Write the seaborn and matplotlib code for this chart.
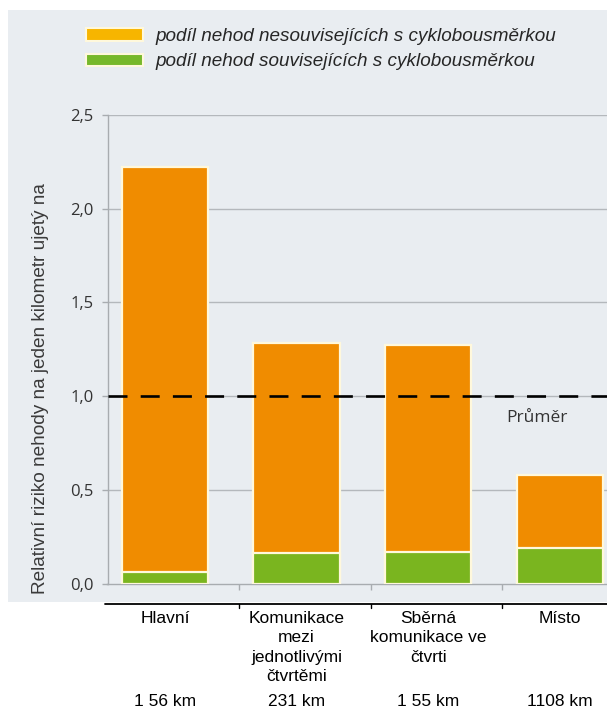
import numpy as np
import pandas as pd
import matplotlib
matplotlib.use("Agg")
import matplotlib.pyplot as plt
import matplotlib.transforms as mtransforms
from matplotlib.patches import Patch, Rectangle
from matplotlib.lines import Line2D
import seaborn as sns

# --- data -------------------------------------------------------------
categories = ["Hlavní", "Komunikace\nmezi\njednotlivými\nčtvrtěmi",
              "Sběrná\nkomunikace ve\nčtvrti", "Místo"]
lengths = ["1 56 km", "231 km", "1 55 km", "1108 km"]
total_risk = [2.22, 1.285, 1.275, 0.58]          # celková výška sloupce
related_risk = [0.06, 0.165, 0.17, 0.19]         # podíl souvisejících nehod
average_level = 1.0
y_ticks = [0.0, 0.5, 1.0, 1.5, 2.0, 2.5]
y_tick_labels = ["0,0", "0,5", "1,0", "1,5", "2,0", "2,5"]
legend_labels = ["podíl nehod nesouvisejících s cyklobousměrkou",
                 "podíl nehod souvisejících s cyklobousměrkou"]
y_label = "Relativní riziko nehody na jeden kilometr ujetý na"
average_label = "Průměr"

# --- styling ----------------------------------------------------------
sns.set_theme(style="white")
plt.rcParams["font.family"] = ["Liberation Sans", "DejaVu Sans"]

ORANGE = "#f08c00"
GREEN = "#7ab51f"
LEG_ORANGE = "#f7b500"
LEG_GREEN = "#76b82a"
CREAM = "#fff8dc"
PANEL = "#e9edf1"
GRID = "#b4b8bc"
HUMANIST = ["Open Sans", "DejaVu Sans"]
ARIAL = ["Liberation Sans", "DejaVu Sans"]

W, H = 607, 710
fig = plt.figure(figsize=(W / 100, H / 100), dpi=100)
fig.patch.set_facecolor("white")

# light panel behind the plot
fig.patches.append(Rectangle((8 / W, 1 - 602 / H), 1 - 8 / W, (602 - 10) / H,
                             transform=fig.transFigure, facecolor=PANEL,
                             edgecolor="none", zorder=-10))

ax_left, ax_right = 107.5 / W, 1.0
ax_bottom, ax_top = 1 - 583.5 / H, 1 - 115 / H
ax = fig.add_axes([ax_left, ax_bottom, ax_right - ax_left, ax_top - ax_bottom])
ax.set_facecolor("none")

df = pd.DataFrame({"kategorie": categories, "celkem": total_risk,
                   "souvisejici": related_risk})

sns.barplot(data=df, x="kategorie", y="celkem", order=categories,
            color=ORANGE, saturation=1, width=0.655, edgecolor=CREAM,
            linewidth=1.6, ax=ax, zorder=3)
sns.barplot(data=df, x="kategorie", y="souvisejici", order=categories,
            color=GREEN, saturation=1, width=0.655, edgecolor=CREAM,
            linewidth=1.6, ax=ax, zorder=4)

ax.set_xlim(-0.437, 3.36)
ax.set_ylim(0, 2.5)

# horizontal grid lines
for t in y_ticks[1:]:
    ax.axhline(t, color=GRID, lw=1.0, zorder=1)

# average line
ax.axhline(average_level, color="black", lw=1.9, linestyle=(0, (7.2, 5.0)),
           zorder=5)
ax.text(2.825, average_level - 0.075, average_label, ha="center", va="top",
        fontsize=12.5, family=HUMANIST, color="#333333", zorder=6)

# spines and ticks
for side in ["top", "right"]:
    ax.spines[side].set_visible(False)
for side in ["left", "bottom"]:
    ax.spines[side].set_color("#a8acb0")
    ax.spines[side].set_linewidth(1.0)

ax.set_yticks(y_ticks)
ax.set_yticklabels(y_tick_labels, family=HUMANIST, fontsize=12,
                   color="#333333")
ax.tick_params(axis="y", direction="out", length=4, width=1.0,
               color="#a8acb0", pad=6, left=True)

# category dividers as minor ticks, labels on major ticks
ax.set_xticks(np.arange(len(categories)))
ax.set_xticklabels([""] * len(categories))
ax.tick_params(axis="x", which="major", length=0)
ax.set_xticks(np.arange(len(categories) - 1) + 0.565, minor=True)
ax.tick_params(axis="x", which="minor", direction="out", length=4, width=1.0,
               color="#a8acb0", bottom=True)
ax.set_xlabel("")
ax.set_ylabel("")

# black base line under the panel with divider ticks
fig.add_artist(Line2D([105 / W, 1.0], [1 - 604 / H, 1 - 604 / H],
                      transform=fig.transFigure, color="black", lw=1.3))
blend = mtransforms.blended_transform_factory(ax.transData, fig.transFigure)
for i in range(len(categories) - 1):
    fig.add_artist(Line2D([i + 0.565, i + 0.565], [1 - 604 / H, 1 - 608 / H],
                          transform=blend, color="black", lw=1.0))

# category labels and road lengths
for i, (cat, ln) in enumerate(zip(categories, lengths)):
    fig.text(i, 1 - 611 / H, cat, transform=blend, ha="center", va="top",
             fontsize=12.5, linespacing=1.36, color="black")
    fig.text(i, 1 - 702 / H, ln, transform=blend, ha="center",
             va="center", fontsize=12.5, color="black")

# y axis title
fig.text(41 / W, 1 - 389 / H, y_label, rotation=90, ha="center", va="center",
         fontsize=13.7, family=ARIAL, color="#3a3a3a")

# legend
handles = [Patch(facecolor=LEG_ORANGE, edgecolor=CREAM, lw=1.5),
           Patch(facecolor=LEG_GREEN, edgecolor=CREAM, lw=1.5)]
fig.legend(handles, legend_labels, loc="upper left",
           bbox_to_anchor=(86 / W, 1 - 28 / H),
           bbox_transform=fig.transFigure, frameon=False,
           prop={"family": ARIAL, "style": "italic", "size": 13.6},
           handlelength=3.0, handleheight=0.65, handletextpad=0.7,
           labelspacing=0.45, borderpad=0, borderaxespad=0)

fig.savefig("out.png", dpi=100, facecolor="white")
